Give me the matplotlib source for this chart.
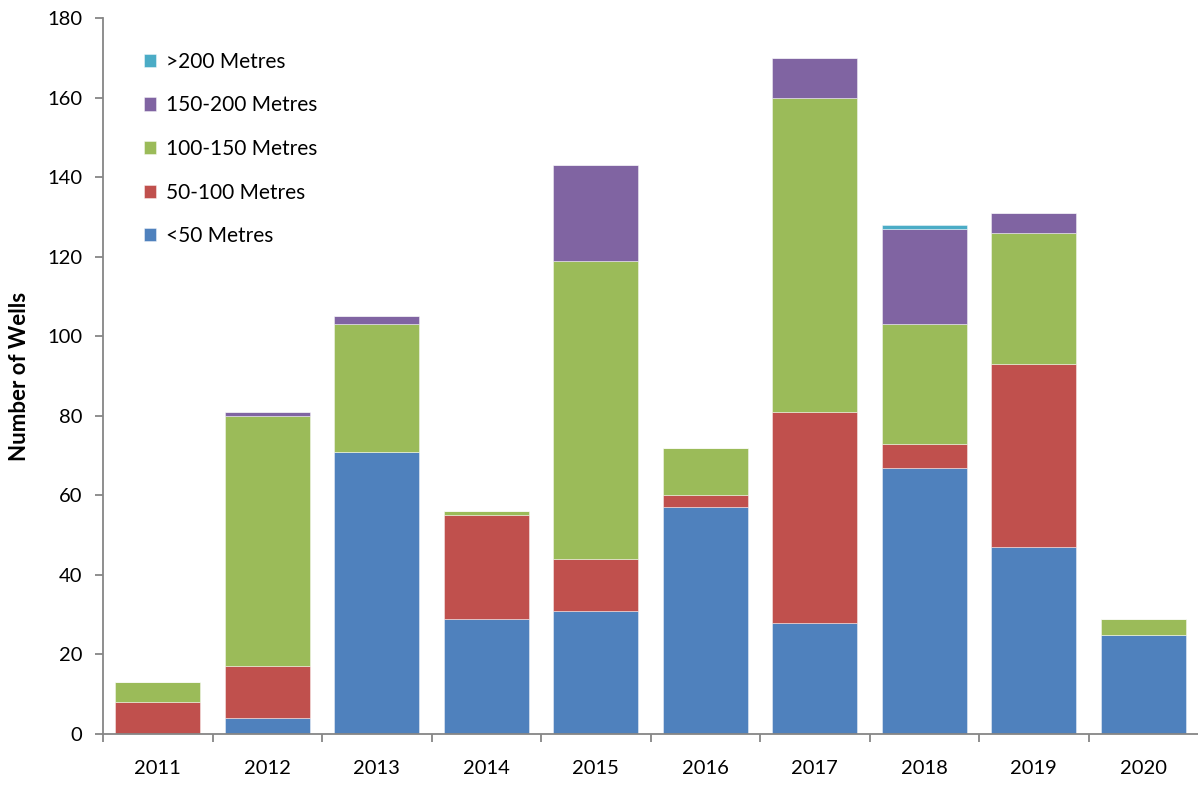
import matplotlib
matplotlib.use('Agg')
import matplotlib.pyplot as plt
import numpy as np
from matplotlib.ticker import FixedLocator

plt.rcParams['font.family'] = ['Lato', 'DejaVu Sans']

years = ['2011', '2012', '2013', '2014', '2015', '2016', '2017', '2018', '2019', '2020']
Name = ['<50 Metres', '50-100 Metres', '100-150 Metres', '150-200 Metres', '>200 Metres']

lt50 = [0, 4, 71, 29, 31, 57, 28, 67, 47, 25]
m50_100 = [8, 13, 0, 26, 13, 3, 53, 6, 46, 0]
m100_150 = [5, 63, 32, 1, 75, 12, 79, 30, 33, 4]
m150_200 = [0, 1, 2, 0, 24, 0, 10, 24, 5, 0]
gt200 = [0, 0, 0, 0, 0, 0, 0, 1, 0, 0]

data = [lt50, m50_100, m100_150, m150_200, gt200]
Color = ['#4F81BD', '#C0504D', '#9BBB59', '#8064A2', '#4BACC6']

fig = plt.figure(figsize=(11.98, 7.87), dpi=100)
ax = fig.add_axes([0.086, 0.0673, 0.914, 0.9097])

x = np.arange(len(years))
width = 0.776
bottom_y = np.zeros(len(years))
handles = []
for i, d in enumerate(data):
    b = ax.bar(x, d, width, bottom=bottom_y, color=Color[i], label=Name[i],
               edgecolor=(1, 1, 1, 0.5), linewidth=0.6)
    handles.append(b)
    bottom_y = bottom_y + np.array(d)

ax.set_xlim(-0.5, len(years) - 0.5)
ax.set_ylim(0, 180)
ax.set_yticks(np.arange(0, 181, 20))
ax.set_xticks(x)
ax.set_xticklabels(years)
# ticks between categories, Excel style
ax.xaxis.set_minor_locator(FixedLocator(np.arange(-0.5, len(years) - 1, 1)))
ax.tick_params(axis='x', which='major', length=0, labelsize=14.5, pad=19)
ax.tick_params(axis='x', which='minor', length=6, width=1.3, color='#868686', direction='out')
ax.tick_params(axis='y', length=6, width=1.3, color='#868686', labelsize=14.5, pad=9)

for s in ['top', 'right']:
    ax.spines[s].set_visible(False)
for s in ['left', 'bottom']:
    ax.spines[s].set_color('#868686')
    ax.spines[s].set_linewidth(1.3)

ax.set_ylabel('Number of Wells', fontsize=16, fontweight='bold', labelpad=12)

leg = ax.legend(handles[::-1], Name[::-1], loc='upper left', bbox_to_anchor=(0.02, 0.979),
                frameon=False, fontsize=15, labelspacing=1.13, handlelength=0.6,
                handleheight=0.6, handletextpad=0.45)

fig.savefig('out.png', dpi=100)
